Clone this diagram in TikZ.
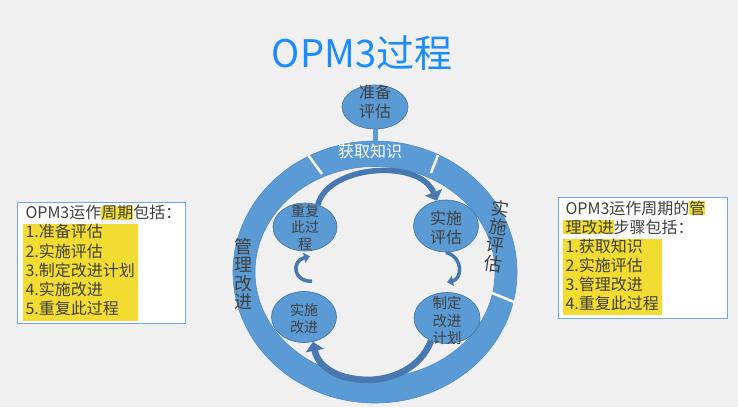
\documentclass[tikz,border=0pt]{standalone}
\usepackage{fontspec}
\setmainfont{Noto Sans CJK SC}
\usetikzlibrary{arrows.meta,shapes.geometric}

\definecolor{bgcol}{HTML}{F0F0F0}
\definecolor{ringblue}{HTML}{5B9BD5}
\definecolor{ringedge}{HTML}{4F8CC9}
\definecolor{nodeedge}{HTML}{41719C}
\definecolor{arrowblue}{HTML}{4778B0}
\definecolor{txtgray}{HTML}{404040}
\definecolor{titleblue}{HTML}{1A8CFF}
\definecolor{hlyellow}{HTML}{F2DC32}
\definecolor{boxblue}{HTML}{6FA8E6}

\newcommand{\hlw}[1]{{\setlength{\fboxsep}{0pt}\colorbox{hlyellow}{#1}}}
\newcommand{\hlblock}[1]{{\setlength{\fboxsep}{0pt}\colorbox{hlyellow}{\begin{tabular}[t]{@{\hspace{3pt}}l@{\hspace{3pt}}}#1\end{tabular}}}}
\newcommand{\stagetxt}[2][0pt]{\smash{\raisebox{#1}{\begin{tabular}{@{}c@{}}#2\end{tabular}}}}

\begin{document}
\begin{tikzpicture}[x=1pt,y=-1pt,
  stage/.style={ellipse,draw=nodeedge,line width=0.6pt,fill=ringblue,inner sep=0pt,text=txtgray},
  ringtext/.style={align=center,text=txtgray,inner sep=0pt,font=\fontsize{18}{18.5}\selectfont},
  bigarrow/.style={draw=arrowblue,line width=5.5pt,-{Triangle[width=18pt,length=9pt]}},
  smallarrow/.style={draw=arrowblue,line width=3.5pt,-{Triangle[width=10pt,length=6pt]}},
  infobox/.style={draw=boxblue,line width=1pt,fill=white,anchor=north west,inner xsep=8pt,inner ysep=0pt,
    align=left,text=txtgray,font=\fontsize{16}{19}\selectfont}]
  \fill[bgcol] (0,0) rectangle (738,407);
  \useasboundingbox (0,0) rectangle (738,407);
  % ring
  \fill[ringblue,even odd rule] (375,272) ellipse [x radius=142pt,y radius=131pt]
    (375,272) ellipse [x radius=120pt,y radius=105.5pt];
  \draw[ringedge,line width=0.6pt] (375,272) ellipse [x radius=142pt,y radius=131pt];
  \draw[ringedge,line width=0.6pt] (375,272) ellipse [x radius=120pt,y radius=105.5pt];
  \draw[white,line width=2.5pt] (308,155)--(322,174);
  \draw[white,line width=2.5pt] (438,155)--(431,173);
  \draw[white,line width=2.5pt] (492,293)--(514,302);
  \node[text=white,font=\fontsize{16}{16}\selectfont] (hqzs) at (370,151) {获取知识};
  \node[ringtext,rotate=-8] (sspgl) at (497,236) {实\\施\\评\\估};
  \node[ringtext] (glgj) at (243,274) {管\\理\\改\\进};
  % stages
  \node[stage,minimum width=66pt,minimum height=44pt,font=\fontsize{16}{19}\selectfont] (zbpg) at (375,107) {\stagetxt[-1pt]{准备\\评估}};
  \draw[ringblue,line width=5pt] (zbpg.south)--(375,144);
  \node[stage,minimum width=64pt,minimum height=48pt,font=\fontsize{14}{16.5}\selectfont] (cfgc) at (305,227) {\stagetxt[-6pt]{重复\\此过\\程}};
  \node[stage,minimum width=65pt,minimum height=52pt,font=\fontsize{16}{19}\selectfont] (sspg) at (446,226) {\stagetxt[-8pt]{实施\\评估}};
  \node[stage,minimum width=65pt,minimum height=51pt,font=\fontsize{14}{17}\selectfont] (ssgj) at (304,317) {\stagetxt[-7pt]{实施\\改进}};
  \node[stage,minimum width=66pt,minimum height=51pt,font=\fontsize{14.5}{17}\selectfont] (zdjh) at (447,318) {\stagetxt[-8pt]{制定\\改进\\计划}};
  % cycle arrows
  \draw[bigarrow] (cfgc.60) .. controls (328,165) and (420,158) .. (sspg.110);
  \draw[smallarrow] (sspg.south) .. controls (464,258) and (462,279) .. ([yshift=10pt]zdjh.north);
  \draw[bigarrow,line width=6.5pt] (zdjh.235) .. controls (410,395) and (322,388) .. (ssgj.290);
  \draw[smallarrow] ([xshift=8pt,yshift=10pt]ssgj.north) .. controls (293,282) and (291,261) .. ([xshift=5pt,yshift=-5pt]cfgc.south);
  % side boxes
  \node[infobox,text width=152pt,minimum height=121pt] (leftbox) at (17,202)
    {OPM3运作\hlw{周期}包括：\\\hspace*{-3pt}\hlblock{1.准备评估\\2.实施评估\\3.制定改进计划\\4.实施改进\\5.重复此过程}};
  \node[infobox,text width=155pt,inner xsep=7pt,minimum height=121pt] (rightbox) at (558,197)
    {OPM3运作周期的\hlw{管}\\\hspace*{-3pt}\hlw{\hspace{3pt}理改进}步骤包括：\\\hspace*{-3pt}\hlblock{1.获取知识\\2.实施评估\\3.管理改进\\4.重复此过程}};
  \node[text=titleblue,font=\fontsize{38}{38}\selectfont] (title) at (362,53) {OPM3过程};
\end{tikzpicture}
\end{document}
